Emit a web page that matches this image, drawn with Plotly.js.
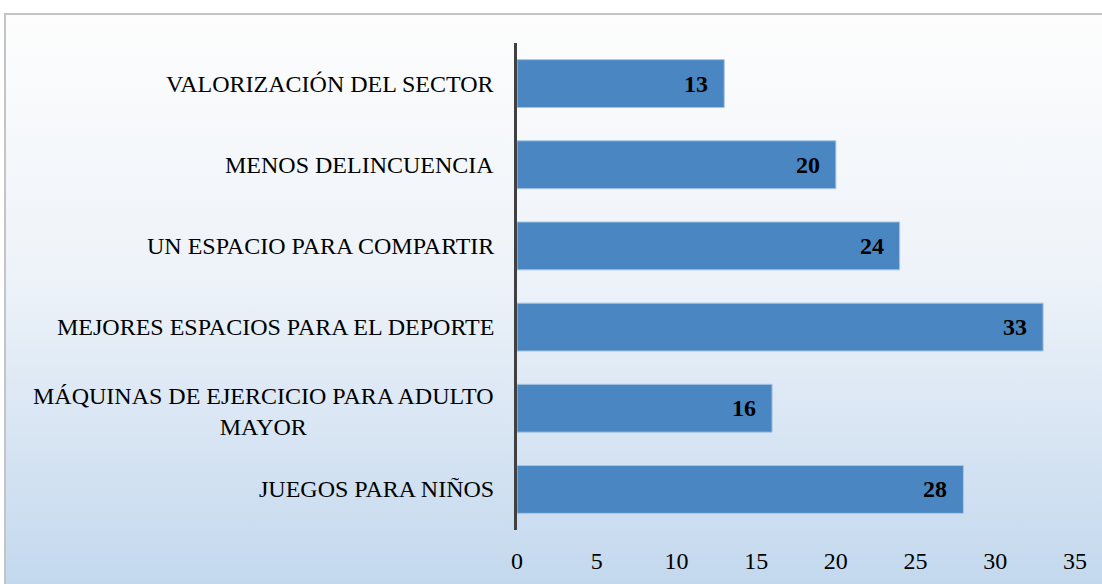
<!DOCTYPE html>
<html>
<head>
<meta charset="utf-8">
<script src="https://cdn.plot.ly/plotly-3.0.1.min.js"></script>
<style>
  html, body { margin: 0; padding: 0; background: #ffffff; overflow: hidden; }
  #bg { position: absolute; left: 4px; top: 13px; width: 1200px; height: 571px;
        border-left: 2px solid #c4c4c4; border-top: 2px solid #c4c4c4;
        background: linear-gradient(to bottom, #fdfdfd 0%, #eef3f9 45%, #c3d8ee 100%); }
  #chart { position: absolute; left: 0; top: 0; width: 1102px; height: 584px; }
</style>
</head>
<body>
<div id="bg"></div>
<div id="chart"></div>
<script>
const categories = [
  "JUEGOS PARA NIÑOS",
  "MÁQUINAS DE EJERCICIO PARA ADULTO<br>MAYOR",
  "MEJORES ESPACIOS PARA EL DEPORTE",
  "UN ESPACIO PARA COMPARTIR",
  "MENOS DELINCUENCIA",
  "VALORIZACIÓN DEL SECTOR"
];
const values = [28, 16, 33, 24, 20, 13];
const xTicks = [0, 5, 10, 15, 20, 25, 30, 35];

const serif = "Liberation Serif, Times New Roman, serif";

const trace = {
  type: "bar",
  orientation: "h",
  y: categories,
  x: values,
  width: 0.59,
  marker: { color: "#4a86c1", line: { color: "#a9c5e2", width: 1 } },
  hoverinfo: "none"
};

const annotations = [];
categories.forEach((c, i) => {
  const multi = c.indexOf("<br>") >= 0;
  annotations.push({
    xref: "paper", yref: "y", x: 0, y: c, xanchor: "right", yanchor: "middle",
    xshift: -21, yshift: multi ? -3 : 0, text: c, showarrow: false, align: "center",
    font: { family: serif, size: 24, color: "#000000" }
  });
  annotations.push({
    xref: "x", yref: "y", x: values[i], y: c, xanchor: "right", yanchor: "middle",
    xshift: -14, text: "<b>" + values[i] + "</b>", showarrow: false,
    font: { family: serif, size: 24, color: "#000000" }
  });
});

const layout = {
  width: 1102, height: 584,
  margin: { l: 517, r: 27, t: 43, b: 54 },
  paper_bgcolor: "rgba(0,0,0,0)",
  plot_bgcolor: "rgba(0,0,0,0)",
  showlegend: false,
  xaxis: {
    range: [0, 35], tickvals: xTicks, ticktext: xTicks.map(String),
    showgrid: false, zeroline: false, showline: false,
    ticks: "", ticklabelstandoff: 14,
    tickfont: { family: serif, size: 24, color: "#000000" }
  },
  yaxis: {
    type: "category", categoryorder: "array", categoryarray: categories,
    range: [-0.5, 5.5],
    showticklabels: false, showgrid: false, zeroline: false,
    showline: true, linecolor: "#404040", linewidth: 3, ticks: ""
  },
  annotations: annotations
};

Plotly.newPlot("chart", [trace], layout, { displayModeBar: false, staticPlot: true });
</script>
</body>
</html>
